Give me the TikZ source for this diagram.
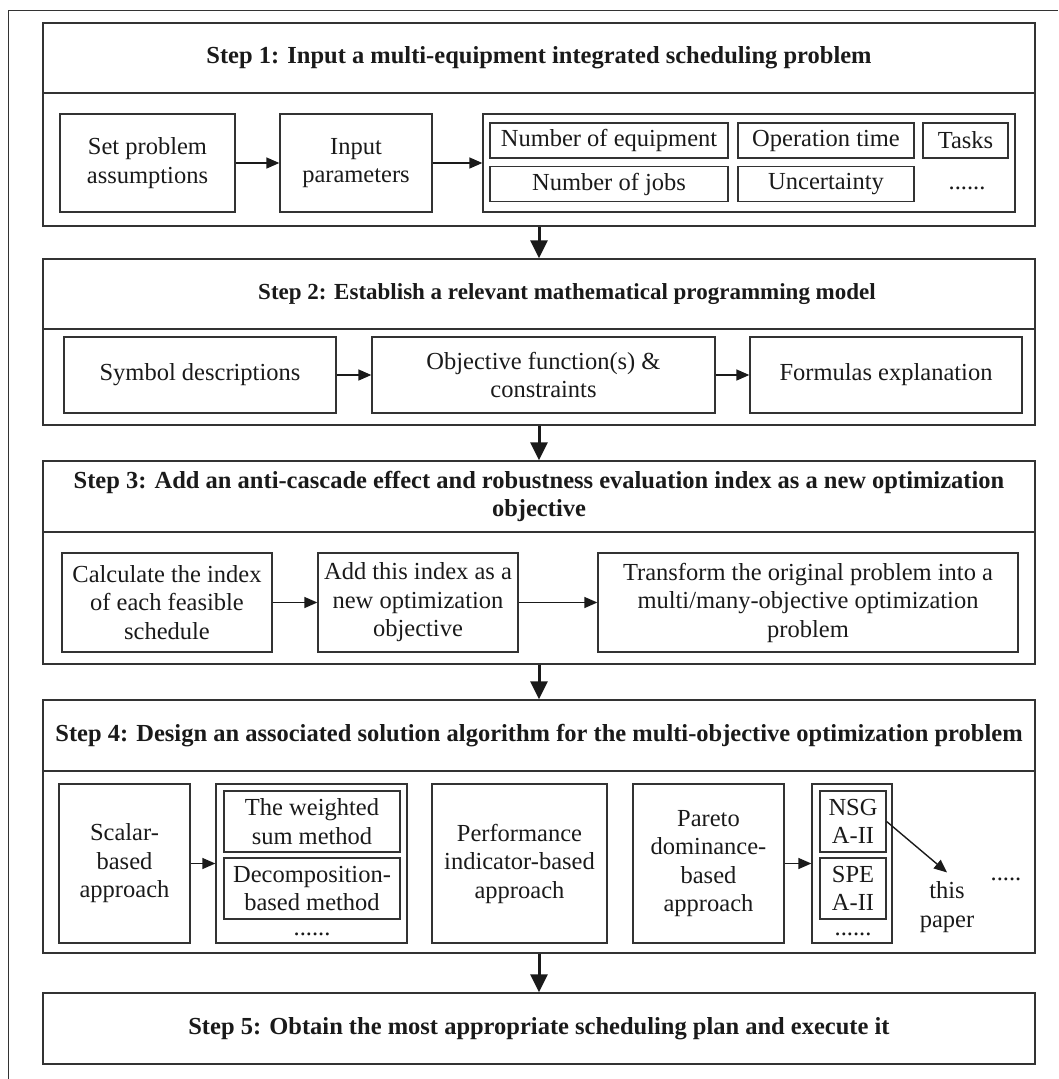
\documentclass[tikz,border=0pt]{standalone}
\usepackage{fontspec}
\setmainfont{Liberation Serif}
\usetikzlibrary{arrows.meta}
\definecolor{edge}{HTML}{333333}
\definecolor{ink}{HTML}{1A1A1A}
\begin{document}
\begin{tikzpicture}[x=1pt,y=-1pt,
  every node/.style={font=\fontsize{24.5}{28.5}\selectfont, text=ink},
  panel/.style={draw=edge, line width=1.3pt, rectangle, minimum width=992pt, inner sep=0pt, align=center},
  headline/.style={font=\fontsize{24.5}{28}\selectfont\bfseries},
  itembox/.style={draw=edge, line width=1.3pt, rectangle, inner sep=0pt, align=center},
  dotrow/.style={inner sep=0pt, anchor=base},
  flow/.style={draw=ink, line width=3pt, -{Triangle[length=18pt,width=17pt]}},
  link/.style={draw=ink, line width=1.4pt, -{Triangle[length=13pt,width=11pt]}},
]
\useasboundingbox (0,0) rectangle (1058,1079);
% outer frame (left and top edges)
\draw[edge, line width=1pt] (8,1079) -- (8,10) -- (1058,10);

% ---------------- Step 1 ----------------
\node[panel, headline, minimum height=70pt] (s1t) at (539,58) {Step 1: Input a multi-equipment integrated scheduling problem};
\node[panel, minimum height=133pt] (s1b) at (539,159.5) {};
\node[itembox, minimum width=175pt, minimum height=98pt] (assume) at (147.5,163) {Set problem\\assumptions};
\node[itembox, minimum width=152pt, minimum height=98pt] (params) at (356,163) {Input\\parameters};
\node[itembox, minimum width=532pt, minimum height=98pt] (plist) at (749,163) {};
\node[itembox, minimum width=238pt, minimum height=35pt] (neq) at (609,140.5) {Number of equipment};
\node[itembox, minimum width=176pt, minimum height=35pt] (optime) at (826,140.5) {Operation time};
\node[itembox, minimum width=85pt, minimum height=35pt] (tasks) at (965.5,140.5) {Tasks};
\node[itembox, minimum width=238pt, minimum height=35pt] (njobs) at (609,184) {Number of jobs};
\node[itembox, minimum width=176pt, minimum height=35pt] (uncert) at (826,184) {Uncertainty};
\node[dotrow] (pmore) at (967,189) {......};
\draw[link] (assume.east) -- (params.west);
\draw[link] (params.east) -- (plist.west);

% ---------------- Step 2 ----------------
\node[panel, minimum height=70pt] (s2t) at (539,294) {};
\node[font=\fontsize{23}{27}\selectfont\bfseries] (s2title) at (567,294) {Step 2: Establish a relevant mathematical programming model};
\node[panel, minimum height=96pt] (s2b) at (539,377) {};
\node[itembox, minimum width=272pt, minimum height=76pt] (symb) at (200,375) {Symbol descriptions};
\node[itembox, minimum width=343pt, minimum height=76pt] (objf) at (543.5,375) {Objective function(s) \&\\constraints};
\node[itembox, minimum width=272pt, minimum height=76pt] (form) at (886,375) {Formulas explanation};
\draw[link] (symb.east) -- (objf.west);
\draw[link] (objf.east) -- (form.west);

% ---------------- Step 3 ----------------
\node[panel, headline, minimum height=71pt] (s3t) at (539,496.5) {Step 3: Add an anti-cascade effect and robustness evaluation index as a new optimization\\objective};
\node[panel, minimum height=132pt] (s3b) at (539,598) {};
\node[itembox, minimum width=210pt, minimum height=99pt] (calc) at (167,602.5) {Calculate the index\\of each feasible\\schedule};
\node[itembox, minimum width=200pt, minimum height=99pt] (addobj) at (418,602.5) {Add this index as a\\new optimization\\objective};
\node[itembox, minimum width=420pt, minimum height=99pt] (trans) at (808,602.5) {Transform the original problem into a\\multi/many-objective optimization\\problem};
\draw[link] (calc.east) -- (addobj.west);
\draw[link] (addobj.east) -- (trans.west);

% ---------------- Step 4 ----------------
\node[panel, headline, minimum height=71pt] (s4t) at (539,735.5) {Step 4: Design an associated solution algorithm for the multi-objective optimization problem};
\node[panel, minimum height=182pt] (s4b) at (539,862) {};
\node[itembox, minimum width=131pt, minimum height=159pt] (scalar) at (124.5,863.5) {Scalar-\\based\\approach};
\node[itembox, minimum width=191pt, minimum height=159pt] (wcont) at (311.5,863.5) {};
\node[itembox, minimum width=176pt, minimum height=61pt] (wsum) at (312,821.5) {The weighted\\sum method};
\node[itembox, minimum width=176pt, minimum height=61pt] (decomp) at (312,888.5) {Decomposition-\\based method};
\node[dotrow] (wmore) at (312,935) {......};
\node[itembox, minimum width=175pt, minimum height=159pt] (perf) at (519.5,863.5) {Performance\\indicator-based\\approach};
\node[itembox, minimum width=151pt, minimum height=159pt] (pareto) at (708.5,863.5) {Pareto\\dominance-\\based\\approach};
\node[itembox, minimum width=80pt, minimum height=159pt] (ncont) at (852,863.5) {};
\node[itembox, minimum width=66pt, minimum height=61pt] (nsga) at (853,821.5) {NSG\\A-II};
\node[itembox, minimum width=66pt, minimum height=61pt] (spea) at (853,888.5) {SPE\\A-II};
\node[dotrow] (nmore) at (853,935) {......};
\node[inner sep=9pt, align=center] (paper) at (947,907) {this\\paper};
\node[dotrow] (amore) at (1006,880) {.....};
\draw[link] (scalar.east) -- (wcont.west);
\draw[link] (pareto.east) -- (ncont.west);
\draw[link] (nsga.east) -- (paper.north);

% ---------------- Step 5 ----------------
\node[panel, headline, minimum height=71pt] (s5) at (539,1028.5) {Step 5: Obtain the most appropriate scheduling plan and execute it};

% ---------------- flow between steps ----------------
\draw[flow] (s1b.south) -- (s2t.north);
\draw[flow] (s2b.south) -- (s3t.north);
\draw[flow] (s3b.south) -- (s4t.north);
\draw[flow] (s4b.south) -- (s5.north);
\end{tikzpicture}
\end{document}
